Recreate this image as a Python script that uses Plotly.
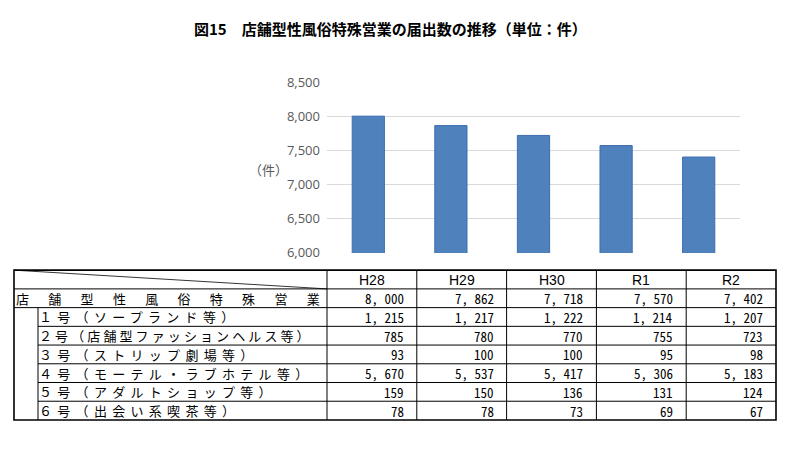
import json
import plotly.graph_objects as go

W, H = 790, 452

# ---------------- data ----------------
years = ["H28", "H29", "H30", "R1", "R2"]
total = [8000, 7862, 7718, 7570, 7402]
type1 = [1215, 1217, 1222, 1214, 1207]
type2 = [785, 780, 770, 755, 723]
type3 = [93, 100, 100, 95, 98]
type4 = [5670, 5537, 5417, 5306, 5183]
type5 = [159, 150, 136, 131, 124]
type6 = [78, 78, 73, 69, 67]
total_label = "店　舗　型　性　風　俗　特　殊　営　業"
sub_labels = [
    "１号（ソープランド等）",
    "２号（店舗型ファッションヘルス等）",
    "３号（ストリップ劇場等）",
    "４号（モーテル・ラブホテル等）",
    "５号（アダルトショップ等）",
    "６号（出会い系喫茶等）",
]
y_ticks = [6000, 6500, 7000, 7500, 8000, 8500]
title_text = "図15　店舗型性風俗特殊営業の届出数の推移（単位：件）"
unit_text = "（件）"

# ---------------- helpers ----------------
def px(x):
    return x / W


def py(y):
    return 1 - y / H


CJK = "Noto Sans CJK JP"
MONO = "Noto Sans Mono CJK JP, DejaVu Sans Mono, monospace"
TFS = 13  # table text size

fig = go.Figure(
    go.Bar(
        x=years,
        y=total,
        width=0.39,
        marker=dict(color="#4f81bd", line=dict(color="#3d6eb0", width=1)),
        hoverinfo="x+y",
    )
)

fig.update_layout(
    width=W,
    height=H,
    margin=dict(l=0, r=0, t=0, b=0),
    paper_bgcolor="white",
    plot_bgcolor="white",
    showlegend=False,
    xaxis=dict(
        domain=[px(327), px(740)],
        range=[-0.5, 4.5],
        showticklabels=False,
        showgrid=False,
        zeroline=False,
        showline=False,
        ticks="",
    ),
    yaxis=dict(
        domain=[py(254), py(76)],
        range=[6000, 8500],
        tickvals=y_ticks,
        tickformat=",",
        showgrid=True,
        gridcolor="#d9d9d9",
        gridwidth=1,
        zeroline=False,
        showline=False,
        ticks="",
        ticklabelstandoff=6,
        tickfont=dict(family="Open Sans", size=13, color="#595959"),
    ),
)

shapes = []
annotations = []

# title
annotations.append(dict(
    text="<b>" + title_text + "</b>", x=px(390), y=py(20), xref="paper", yref="paper",
    xanchor="center", yanchor="middle", showarrow=False,
    font=dict(family=CJK, size=15, color="#000000"),
))
# unit label
annotations.append(dict(
    text=unit_text, x=px(268), y=py(167), xref="paper", yref="paper",
    xanchor="center", yanchor="middle", showarrow=False,
    font=dict(family=CJK, size=13, color="#595959"),
))

# ---------------- table ----------------
left, label_right, right = 14, 327, 776
indent = 38
top, row_h = 272, 19.5
n_rows = 8
col_w = (right - label_right) / len(years)
col_x = [label_right + i * col_w for i in range(len(years) + 1)]
row_y = [top + i * row_h for i in range(n_rows + 1)]


def line(x0, y0, x1, y1, w=1):
    shapes.append(dict(
        type="line", xref="paper", yref="paper",
        x0=px(x0), y0=py(y0), x1=px(x1), y1=py(y1),
        line=dict(color="#000000", width=w),
    ))


# horizontal lines
line(left, row_y[1], right, row_y[1])
line(left, row_y[2], right, row_y[2])
for r in range(3, n_rows):
    line(indent, row_y[r], right, row_y[r])
# vertical lines
line(indent, row_y[2], indent, row_y[n_rows])
for cx in col_x[:-1]:
    line(cx, top, cx, row_y[n_rows])
# diagonal in header corner
line(left, top, label_right, row_y[1], 0.8)
# outer border
shapes.append(dict(
    type="rect", xref="paper", yref="paper",
    x0=px(left), y0=py(row_y[n_rows]), x1=px(right), y1=py(top),
    line=dict(color="#000000", width=1.6),
))


def mid(r):
    return (row_y[r] + row_y[r + 1]) / 2


# header
for i, yr in enumerate(years):
    annotations.append(dict(
        text=yr, x=px((col_x[i] + col_x[i + 1]) / 2), y=py(mid(0) + 0.5),
        xref="paper", yref="paper", xanchor="center", yanchor="middle",
        showarrow=False, borderpad=0, borderwidth=0,
        font=dict(family="Liberation Sans", size=14, color="#000000"),
    ))

# row labels
annotations.append(dict(
    text=total_label, x=px(16), y=py(mid(1)),
    xref="paper", yref="paper", xanchor="left", yanchor="middle",
    showarrow=False, borderpad=0, borderwidth=0,
    font=dict(family=CJK, size=TFS, color="#000000"),
))
for k, lab in enumerate(sub_labels):
    annotations.append(dict(
        text=lab, x=px(indent + 1), y=py(mid(k + 2)),
        xref="paper", yref="paper", xanchor="left", yanchor="middle",
        showarrow=False, borderpad=0, borderwidth=0,
        font=dict(family=CJK, size=TFS, color="#000000"),
    ))

# values
series = [total, type1, type2, type3, type4, type5, type6]
for r, vals in enumerate(series):
    for i, v in enumerate(vals):
        annotations.append(dict(
            text=f"{v:,}".replace(",", ", "), x=px(col_x[i + 1] - 13), y=py(mid(r + 1) + 0.5),
            xref="paper", yref="paper", xanchor="right", yanchor="middle",
            showarrow=False, borderpad=0, borderwidth=0,
            font=dict(family=MONO, size=TFS, color="#000000"),
        ))

fig.update_layout(shapes=shapes, annotations=annotations)

# letter spacing (style only) for the table's row labels, kept left-aligned
spacing = {total_label: 3.15}
for lab in sub_labels:
    spacing[lab] = 3.1 if "ファッション" in lab else 5.3

js = (
    "document.body.style.margin='0';document.body.style.padding='0';"
    "var sp=" + json.dumps(spacing, ensure_ascii=False) + ";"
    "document.querySelectorAll('text.annotation-text').forEach(function(t){"
    "var s=t.textContent; if(sp[s]===undefined){return;}"
    "var w=t.getBBox().width; var x=parseFloat(t.getAttribute('x')||'0');"
    "t.setAttribute('text-anchor','start'); t.setAttribute('x', x - w/2);"
    "t.style.letterSpacing=sp[s]+'px';});"
)

fig.write_html("out.html", config={"displayModeBar": False}, post_script=js)
